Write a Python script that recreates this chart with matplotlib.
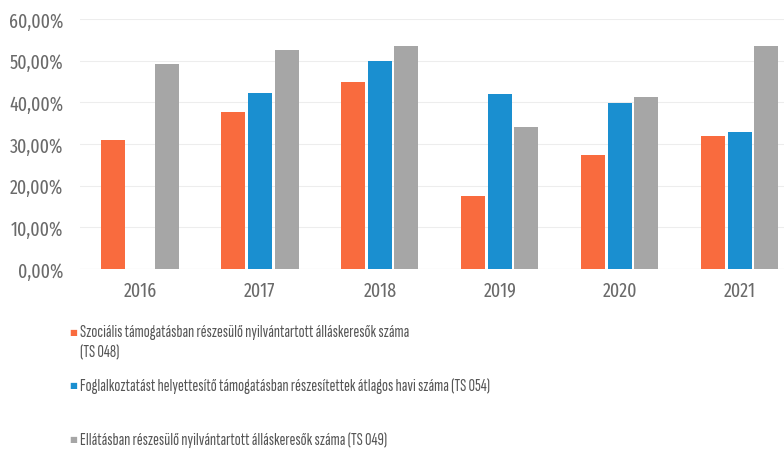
import matplotlib
matplotlib.use('Agg')
import matplotlib.pyplot as plt
import numpy

years = ['2016', '2017', '2018', '2019', '2020', '2021']
szocialis = [31.0, 37.7, 44.9, 17.6, 27.3, 32.0]
foglalkoztatast = [numpy.nan, 42.3, 50.0, 42.0, 39.9, 32.8]
ellatasban = [49.2, 52.6, 53.6, 34.0, 41.3, 53.6]
yticks = [0, 10, 20, 30, 40, 50, 60]
legend_labels = [
    'Szociális támogatásban részesülő nyilvántartott álláskeresők száma\n(TS 048)',
    'Foglalkoztatást helyettesítő támogatásban részesítettek átlagos havi száma (TS 054)',
    'Ellátásban részesülő nyilvántartott álláskeresők száma (TS 049)',
]

plt.rcParams['font.family'] = ['Fira Sans Extra Condensed', 'DejaVu Sans']

colors = ['#F96B3E', '#1A8FD0', '#A6A6A6']
text_color = '#6A6A6A'

fig = plt.figure(figsize=(7.84, 4.52), dpi=100)
ax = fig.add_axes([80 / 784, 1 - 270 / 452, (784 - 80) / 784, 250 / 452])

x = numpy.arange(len(years))
w = 0.2
off = 0.222
ax.bar(x - off, szocialis, w, color=colors[0], zorder=3)
ax.bar(x, foglalkoztatast, w, color=colors[1], zorder=3)
ax.bar(x + off, ellatasban, w, color=colors[2], zorder=3)

ax.set_xlim(-0.5, 5.37)
ax.set_ylim(0, 60)
ax.set_yticks(yticks)
ax.set_yticklabels(['%d,00%%' % v for v in yticks])
ax.set_xticks(x)
ax.set_xticklabels(years)
ax.tick_params(axis='both', length=0, labelsize=14, colors=text_color)
ax.tick_params(axis='y', pad=12)
ax.tick_params(axis='x', pad=8)
ax.grid(axis='y', color='#EDEDED', linewidth=0.8, zorder=0)
for s in ax.spines.values():
    s.set_visible(False)
ax.axhline(0, color='#E6E6E6', linewidth=0.8, zorder=1)

# legend drawn by hand, spacing is uneven in the original
leg_y = [333, 386, 440]
for lab, c, yy in zip(legend_labels, colors, leg_y):
    fig.text(69 / 784, 1 - yy / 452, '■', color=c, fontsize=6, va='center',
             family='DejaVu Sans')
    fig.text(80 / 784, 1 - (yy - 8) / 452, lab, color='#555555', fontsize=12.8,
             va='top', linespacing=1.4, family=['Sofia Sans Extra Condensed', 'DejaVu Sans'])

fig.savefig('out.png', dpi=100)
